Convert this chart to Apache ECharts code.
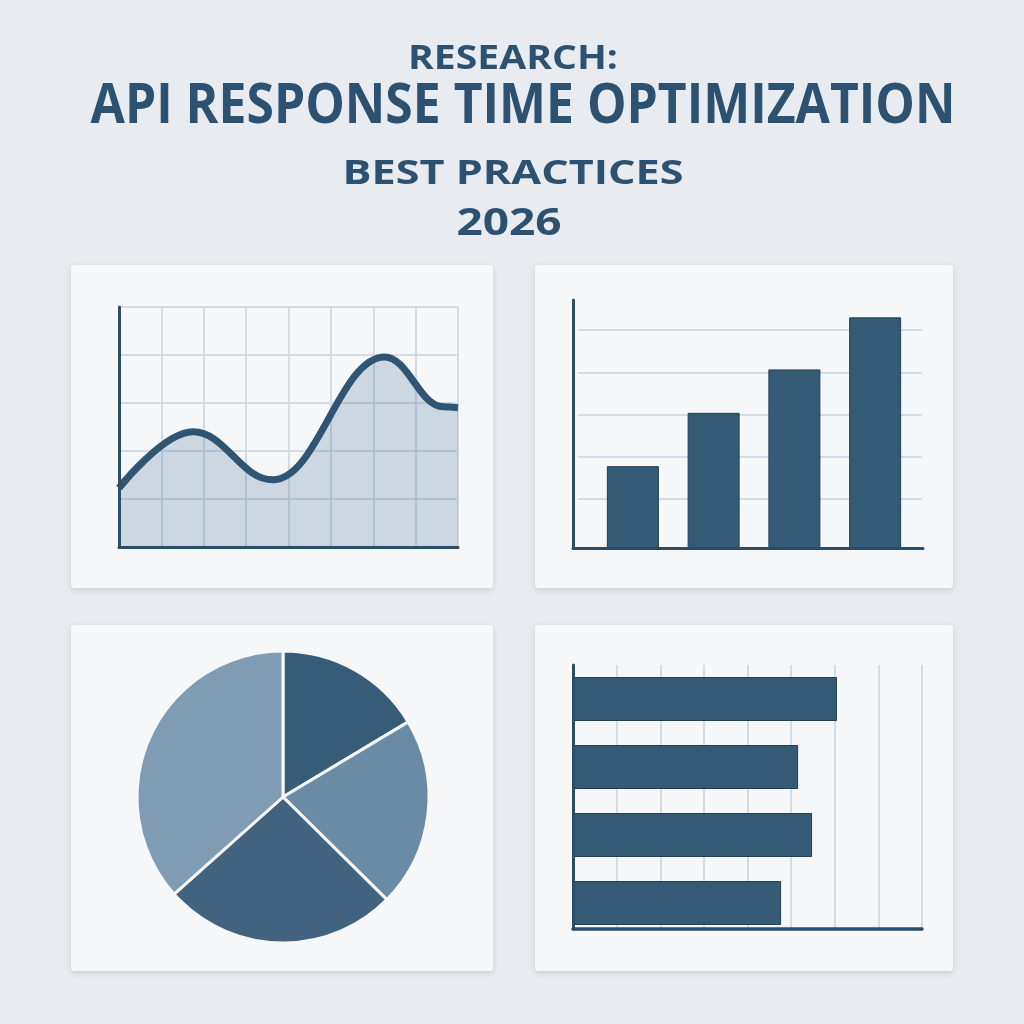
<!DOCTYPE html>
<html>
<head>
<meta charset="utf-8">
<script src="https://cdn.jsdelivr.net/npm/echarts@6/dist/echarts.min.js"></script>
<style>
  html, body { margin: 0; padding: 0; background: #e8ebef; }
  #main { width: 1024px; height: 1024px; }
</style>
</head>
<body>
<div id="main"></div>
<script>
// 标题
var titleTop = 'RESEARCH:';
var titleMain = 'API RESPONSE TIME OPTIMIZATION';
var titleSub = 'BEST PRACTICES';
var titleYear = '2026';

// 面积折线图 (极值点)
var lineX = [0, 1.75, 3.63, 6.27, 7.65, 8];
var lineY = [1.23, 2.4, 1.4, 3.96, 2.92, 2.9];

// 柱状图
var barCats = ['Q1', 'Q2', 'Q3', 'Q4'];
var barValues = [3.3, 5.45, 7.2, 9.3];

// 饼图
var pieNames = ['A', 'B', 'C', 'D'];
var pieValues = [16.4, 21, 26, 36.6];
var pieColors = ['#365c78', '#6a8ba5', '#41637f', '#7f9cb4'];

// 横向柱状图
var hbarCats = ['R1', 'R2', 'R3', 'R4'];
var hbarValues = [6.05, 5.16, 5.48, 4.77];

var dark = '#2c4d68';
var barColor = '#355a75';
var gridColor = '#d3dbe7';

function panel(x, y, w, h) {
    return {
        type: 'rect', z: -10,
        shape: { x: x, y: y, width: w, height: h, r: 3 },
        style: { fill: '#f6f7f9', shadowBlur: 6, shadowOffsetY: 2, shadowColor: 'rgba(0,0,0,0.13)' }
    };
}
function title(txt, x, y, size, sx) {
    return {
        type: 'text', z: 10, x: x, y: y, scaleX: sx,
        style: {
            text: txt, fill: '#2d5170', font: 'bold ' + size + 'px "Open Sans"',
            textAlign: 'center', textVerticalAlign: 'middle'
        }
    };
}
var hidden = { show: false };
function frameAxis(extra) {
    var a = {
        type: 'value', min: 0, max: 1, z: 5,
        axisLine: { show: true, lineStyle: { color: dark, width: 3 } },
        axisTick: hidden, axisLabel: hidden, splitLine: hidden
    };
    for (var k in extra) a[k] = extra[k];
    return a;
}
function splitAxis(extra) {
    var a = {
        type: 'value', interval: 1,
        axisLine: hidden, axisTick: hidden, axisLabel: hidden,
        splitLine: { show: true, lineStyle: { color: gridColor, width: 2 } }
    };
    for (var k in extra) a[k] = extra[k];
    return a;
}

var myChart = echarts.init(document.getElementById('main'));
var option = {
    backgroundColor: '#e8ebef',
    animation: false,
    graphic: [
        panel(71, 265, 422, 323),
        panel(535, 265, 418, 323),
        panel(71, 625, 422, 346),
        panel(535, 625, 418, 346),
        title(titleTop, 513, 59, 34, 1.15),
        title(titleMain, 523, 107, 56, 0.89),
        title(titleSub, 513, 174, 34, 1.27),
        title(titleYear, 509, 224, 38, 1.21)
    ],
    grid: [
        { left: 119, top: 307, width: 339, height: 240 },
        { left: 573, top: 300, width: 350, height: 248 },
        { left: 578, top: 330, width: 344, height: 169 },
        { left: 592.5, top: 300, width: 323, height: 248 },
        { left: 573, top: 665, width: 349, height: 264 },
        { left: 573, top: 665, width: 349, height: 272 },
        { left: 119, top: 307, width: 339, height: 240 }
    ],
    xAxis: [
        splitAxis({ gridIndex: 0, min: 0, max: 8 }),
        frameAxis({ gridIndex: 1 }),
        { gridIndex: 2, type: 'value', show: false },
        { gridIndex: 3, type: 'category', data: barCats, show: false },
        splitAxis({ gridIndex: 4, min: 0, max: 8, axisLine: { show: true, lineStyle: { color: dark, width: 3.5 } } }),
        { gridIndex: 5, type: 'value', min: 0, max: 8, show: false },
        frameAxis({ gridIndex: 6 })
    ],
    yAxis: [
        splitAxis({ gridIndex: 0, min: 0, max: 5 }),
        frameAxis({ gridIndex: 1 }),
        splitAxis({ gridIndex: 2, min: 0, max: 4 }),
        { gridIndex: 3, type: 'value', min: 0, max: 10, show: false },
        frameAxis({ gridIndex: 4 }),
        { gridIndex: 5, type: 'category', data: hbarCats, inverse: true, show: false },
        frameAxis({ gridIndex: 6 })
    ],
    series: [
        {
            type: 'line', xAxisIndex: 0, yAxisIndex: 0,
            data: lineX.map(function (x, i) { return [x, lineY[i]]; }),
            smooth: 0.4, smoothMonotone: 'x', symbol: 'none',
            lineStyle: { color: '#2f5573', width: 7 },
            areaStyle: { color: 'rgba(57,101,141,0.32)' }
        },
        {
            type: 'bar', xAxisIndex: 3, yAxisIndex: 3,
            data: barValues, barWidth: 52,
            itemStyle: { color: barColor, borderColor: '#213f57', borderWidth: 1 }
        },
        {
            type: 'pie', center: [283, 797], radius: 146, startAngle: 90, clockwise: true,
            label: hidden, labelLine: hidden,
            data: pieNames.map(function (n, i) {
                return { name: n, value: pieValues[i], itemStyle: { color: pieColors[i] } };
            }),
            itemStyle: { borderColor: '#f6f7f9', borderWidth: 3 }
        },
        {
            type: 'bar', xAxisIndex: 5, yAxisIndex: 5,
            data: hbarValues, barWidth: 44,
            itemStyle: { color: barColor, borderColor: '#213f57', borderWidth: 1 }
        }
    ]
};
myChart.setOption(option);
</script>
</body>
</html>
